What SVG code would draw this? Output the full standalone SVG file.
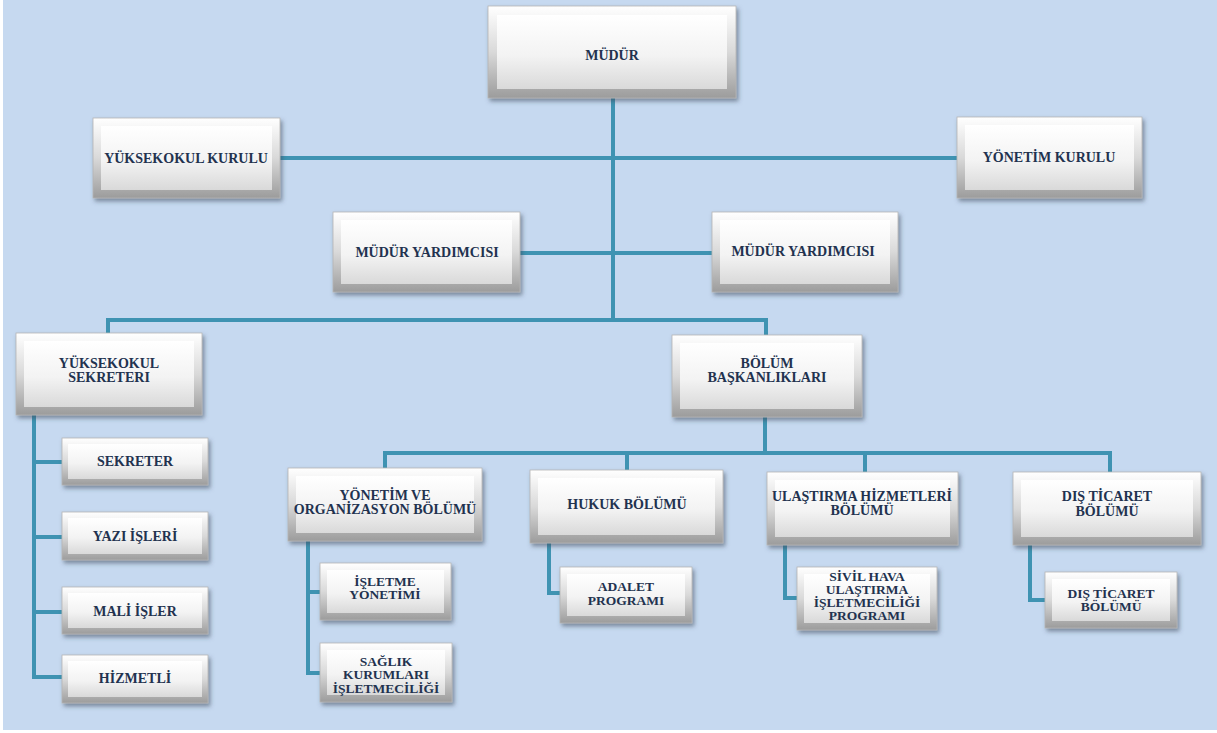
<svg xmlns="http://www.w3.org/2000/svg" width="1217" height="733" viewBox="0 0 1217 733">
<defs>
<linearGradient id="edgeG" x1="0" y1="0" x2="0" y2="1">
<stop offset="0" stop-color="#ffffff"/>
<stop offset="0.5" stop-color="#d9d9d9"/>
<stop offset="1" stop-color="#9c9c9c"/>
</linearGradient>
<linearGradient id="faceG" x1="0" y1="0" x2="0" y2="1">
<stop offset="0" stop-color="#ffffff"/>
<stop offset="0.55" stop-color="#f3f3f3"/>
<stop offset="1" stop-color="#d9d9d9"/>
</linearGradient>
<filter id="sh" x="-10%" y="-10%" width="125%" height="135%">
<feDropShadow dx="2" dy="3" stdDeviation="2" flood-color="#3a4a5a" flood-opacity="0.55"/>
</filter>
</defs>
<style>
.edge{fill:url(#edgeG);stroke:#b5b5b5;stroke-width:0.8;filter:url(#sh)}
.face{fill:url(#faceG)}
text{font-family:'Liberation Serif','DejaVu Serif','Noto Serif',serif;font-weight:bold;font-size:14px;fill:#22324f;text-anchor:middle}
.s{font-size:13.5px}
.c{fill:none;stroke:#3f93b2;stroke-width:4;stroke-linecap:square}
</style>
<rect x="0" y="0" width="1217" height="733" fill="#ffffff"/>
<rect x="3" y="0" width="1214" height="730" fill="#c6d9f0"/>
<g id="connectors">
<path class="c" d="M613 98V320"/>
<path class="c" d="M280 158H957"/>
<path class="c" d="M520 253H712"/>
<path class="c" d="M108 333V320H766V335"/>
<path class="c" d="M34 415V677H62M34 462H62M34 537H62M34 612H62"/>
<path class="c" d="M765 417V453"/>
<path class="c" d="M385 468V453H1110V472M627 453V470M865 453V472"/>
<path class="c" d="M308 541V673H320M308 592H320"/>
<path class="c" d="M549 543V593H560"/>
<path class="c" d="M785 545V598H797"/>
<path class="c" d="M1030 545V600H1045"/>
</g>
<g font-family="Liberation Serif, DejaVu Serif, serif">
<g id="mudur"><rect class="edge" x="488" y="6" width="248" height="92"/><rect class="face" x="497" y="15" width="230" height="74"/><text x="612" y="60">MÜDÜR</text></g>
<g id="yuksekokul-kurulu"><rect class="edge" x="93" y="118" width="187" height="80"/><rect class="face" x="101" y="126" width="171" height="64"/><text x="186" y="163">YÜKSEKOKUL  KURULU</text></g>
<g id="yonetim-kurulu"><rect class="edge" x="957" y="117" width="185" height="81"/><rect class="face" x="965" y="125" width="169" height="65"/><text x="1049" y="162">YÖNETİM KURULU</text></g>
<g id="mudur-yard-1"><rect class="edge" x="333" y="212" width="187" height="80"/><rect class="face" x="341" y="220" width="171" height="64"/><text x="427" y="257">MÜDÜR YARDIMCISI</text></g>
<g id="mudur-yard-2"><rect class="edge" x="712" y="212" width="186" height="80"/><rect class="face" x="720" y="220" width="170" height="64"/><text x="803" y="256">MÜDÜR YARDIMCISI</text></g>
<g id="yuksekokul-sekreteri"><rect class="edge" x="16" y="333" width="186" height="82"/><rect class="face" x="24" y="341" width="170" height="66"/><text x="109" y="368">YÜKSEKOKUL</text><text x="109" y="382">SEKRETERI</text></g>
<g id="bolum-baskanliklari"><rect class="edge" x="672" y="335" width="190" height="82"/><rect class="face" x="680" y="343" width="174" height="66"/><text x="767" y="368">BÖLÜM</text><text x="767" y="382">BAŞKANLIKLARI</text></g>
<g id="sekreter"><rect class="edge" x="62" y="438" width="146" height="47"/><rect class="face" x="68" y="444" width="134" height="35"/><text x="135" y="466">SEKRETER</text></g>
<g id="yazi-isleri"><rect class="edge" x="62" y="512" width="146" height="48"/><rect class="face" x="68" y="518" width="134" height="36"/><text x="135" y="541">YAZI  İŞLERİ</text></g>
<g id="mali-isler"><rect class="edge" x="62" y="587" width="146" height="47"/><rect class="face" x="68" y="593" width="134" height="35"/><text x="135" y="616">MALİ  İŞLER</text></g>
<g id="hizmetli"><rect class="edge" x="62" y="655" width="146" height="48"/><rect class="face" x="68" y="661" width="134" height="36"/><text x="135" y="683">HİZMETLİ</text></g>
<g id="yonetim-org"><rect class="edge" x="288" y="468" width="194" height="73"/><rect class="face" x="296" y="476" width="178" height="57"/><text x="385" y="500">YÖNETİM VE</text><text x="385" y="514">ORGANİZASYON BÖLÜMÜ</text></g>
<g id="hukuk"><rect class="edge" x="530" y="470" width="193" height="73"/><rect class="face" x="538" y="478" width="177" height="57"/><text x="627" y="509">HUKUK BÖLÜMÜ</text></g>
<g id="ulastirma"><rect class="edge" x="767" y="472" width="191" height="73"/><rect class="face" x="775" y="480" width="175" height="57"/><text x="862" y="501">ULAŞTIRMA  HİZMETLERİ</text><text x="862" y="515">BÖLÜMÜ</text></g>
<g id="dis-ticaret"><rect class="edge" x="1013" y="472" width="188" height="73"/><rect class="face" x="1021" y="480" width="172" height="57"/><text x="1107" y="501">DIŞ TİCARET</text><text x="1107" y="516">BÖLÜMÜ</text></g>
<g id="isletme-yonetimi"><rect class="edge" x="320" y="563" width="131" height="57"/><rect class="face" x="327" y="570" width="117" height="43"/><text class="s" x="385" y="586">İŞLETME</text><text class="s" x="385" y="599">YÖNETİMİ</text></g>
<g id="saglik"><rect class="edge" x="320" y="643" width="132" height="59"/><rect class="face" x="327" y="650" width="118" height="45"/><text class="s" x="386" y="666">SAĞLIK</text><text class="s" x="386" y="679">KURUMLARI</text><text class="s" x="386" y="693">İŞLETMECİLİĞİ</text></g>
<g id="adalet"><rect class="edge" x="560" y="567" width="132" height="56"/><rect class="face" x="567" y="574" width="118" height="42"/><text class="s" x="626" y="591">ADALET</text><text class="s" x="626" y="605">PROGRAMI</text></g>
<g id="sivil-hava"><rect class="edge" x="797" y="567" width="140" height="63"/><rect class="face" x="804" y="574" width="126" height="49"/><text class="s" x="867" y="581">SİVİL  HAVA</text><text class="s" x="867" y="594">ULAŞTIRMA</text><text class="s" x="867" y="607">İŞLETMECİLİĞİ</text><text class="s" x="867" y="620">PROGRAMI</text></g>
<g id="dis-ticaret-bolumu"><rect class="edge" x="1045" y="572" width="132" height="56"/><rect class="face" x="1052" y="579" width="118" height="42"/><text class="s" x="1111" y="598">DIŞ TİCARET</text><text class="s" x="1111" y="611">BÖLÜMÜ</text></g>
</g>
</svg>
